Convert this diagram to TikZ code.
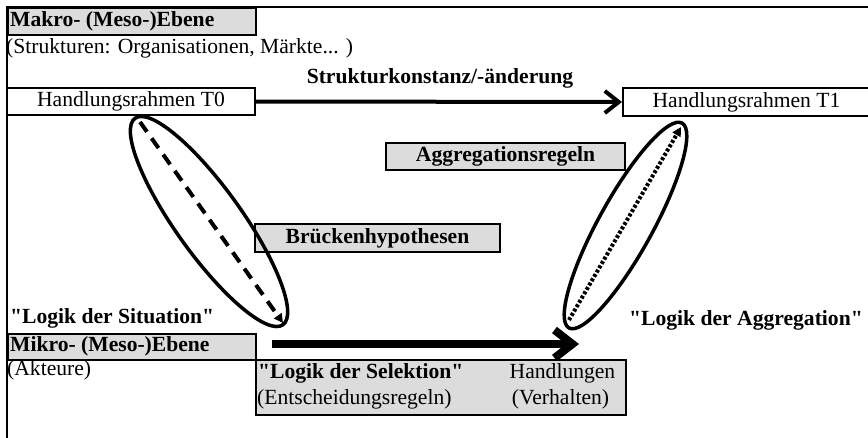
\documentclass[tikz,border=0pt]{standalone}
\usepackage{fontspec}
\setmainfont{Liberation Serif}
\usetikzlibrary{arrows.meta,shapes.geometric}
\definecolor{boxgray}{RGB}{220,220,220}
\newcommand\fsz{\fontsize{21.6}{26}\selectfont}
\newcommand\qq{\textquotedbl}
\begin{document}
\begin{tikzpicture}[x=1pt,y=-1pt,
  txt/.style={font=\fsz, inner sep=0pt},
  btxt/.style={font=\fsz\bfseries, inner sep=0pt},
  graybox/.style={draw, line width=2pt, fill=boxgray, inner sep=0pt},
  whitebox/.style={draw, line width=2pt, fill=white, inner sep=0pt, font=\fsz},
  ell/.style={ellipse, draw, line width=3.5pt, inner sep=0pt},
  thickarrow/.style={line width=4pt, -{Straight Barb[length=14pt,width=22pt]}},
  boldarrow/.style={line width=8pt, -{Straight Barb[length=18pt,width=28pt]}},
  dasharrow/.style={line width=4pt, dash pattern=on 12pt off 8pt, -{Triangle[length=9pt,width=9pt]}},
  dotarrow/.style={line width=4pt, dash pattern=on 3pt off 2pt, -{Triangle[length=9pt,width=9pt]}}]
\useasboundingbox (0,0) rectangle (868,437);
% frame
\draw[line width=2.5pt] (7,445) -- (7,7) -- (875,7);
% top level
\node[graybox, anchor=north west, minimum width=248pt, minimum height=27pt] (makro) at (7,7) {};
\node[btxt, anchor=west] (makrot) at (10,21) {Makro- (Meso-)Ebene};
\node[txt, anchor=west] (strukt) at (6,48) {(Strukturen: Organisationen, Märkte... )};
\node[btxt] (sk) at (440,78) {Strukturkonstanz/-änderung};
\node[whitebox, minimum width=248pt, minimum height=27pt] (t0) at (131,101.5) {Handlungsrahmen T0};
\node[whitebox, minimum width=247pt, minimum height=28pt] (t1) at (746.5,102) {Handlungsrahmen T1};
\draw[thickarrow] (t0.east) -- (t1.west);
% middle boxes
\node[graybox, btxt, minimum width=239pt, minimum height=27pt] (aggr) at (505.5,156.5) {Aggregationsregeln};
\node[graybox, btxt, minimum width=245pt, minimum height=28pt] (bruck) at (377.5,238) {Brückenhypothesen};
% ellipses
\node[ell, minimum width=254pt, minimum height=66pt, rotate=-54.4] (ellL) at (209,221.5) {};
\node[ell, minimum width=234pt, minimum height=54pt, rotate=61.1] (ellR) at (625.5,225.5) {};
\coordinate (dA) at (140,122);
\coordinate (dB) at (283,323);
\draw[dasharrow] (dA) -- (dB);
\coordinate (pA) at (569,320);
\coordinate (pB) at (681,127);
\draw[dotarrow] (pA) -- (pB);
% labels
\node[btxt, anchor=west] (situ) at (10,318) {\qq Logik der Situation\qq};
\node[btxt, anchor=west] (aggl) at (629,320) {\qq Logik der Aggregation\qq};
% micro level
\node[graybox, anchor=north west, minimum width=248pt, minimum height=26pt] (mikro) at (7,333) {};
\node[btxt, anchor=west] (mikrot) at (10,346) {Mikro- (Meso-)Ebene};
\node[txt, anchor=west] (akt) at (7,370) {(Akteure)};
\node[graybox, anchor=north west, minimum width=370pt, minimum height=55pt] (sel) at (255,359) {};
\node[btxt, anchor=west] (selt) at (258,373) {\qq Logik der Selektion\qq};
\node[txt] (handl) at (562.5,373) {Handlungen};
\node[txt, anchor=west] (ents) at (257,399) {(Entscheidungsregeln)};
\node[txt] (verh) at (560.5,399) {(Verhalten)};
\coordinate (bA) at (272,344);
\coordinate (bB) at (579,344);
\draw[boldarrow] (bA) -- (bB);
\end{tikzpicture}
\end{document}
